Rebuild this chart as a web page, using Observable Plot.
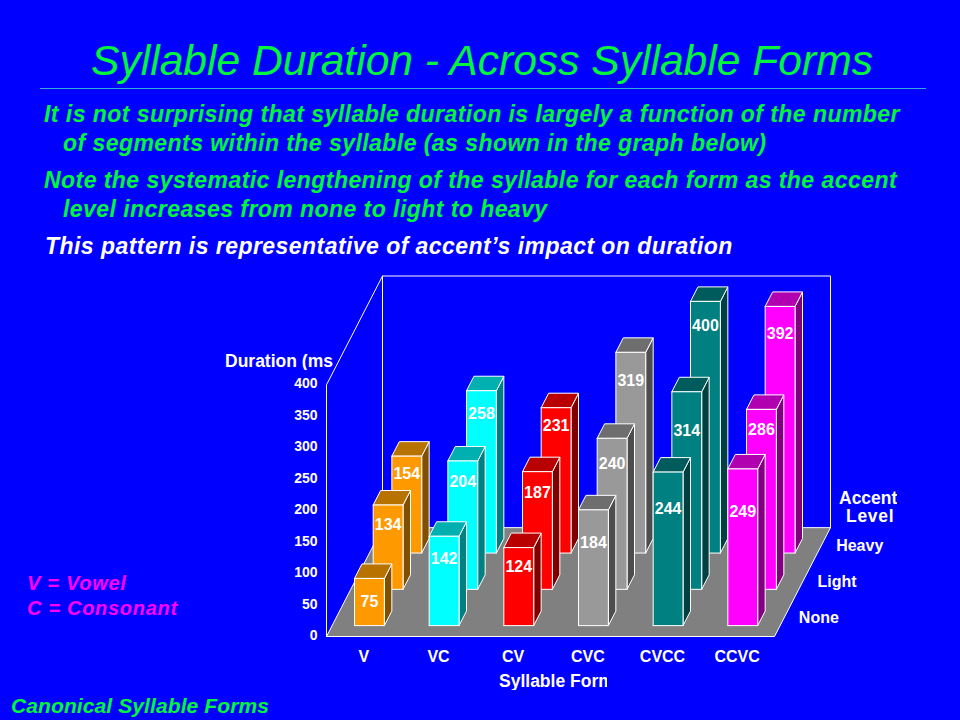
<!DOCTYPE html>
<html>
<head>
<meta charset="utf-8">
<script src="https://cdn.jsdelivr.net/npm/d3@7"></script>
<script src="https://cdn.jsdelivr.net/npm/@observablehq/plot@0.6"></script>
<style>
html,body{margin:0;padding:0;background:#0000FF;width:960px;height:720px;overflow:hidden;}
body{position:relative;font-family:"Liberation Sans",Arial,sans-serif;}
.t{position:absolute;white-space:nowrap;font-weight:bold;font-style:italic;line-height:1;}
.g{color:#00F73A;font-size:23px;letter-spacing:.45px;}
.w{color:#fff;font-size:23px;letter-spacing:.45px;}
.m{color:#FF00FF;font-size:20px;letter-spacing:.7px;}
.c{position:absolute;white-space:nowrap;overflow:hidden;font-weight:bold;color:#fff;font-size:17.5px;line-height:18px;height:18px;}
#chart{position:absolute;left:0;top:270px;}
#chart svg{display:block;}
</style>
</head>
<body>
<div class="t" id="title" style="left:0;width:964px;text-align:center;top:39px;font-size:42.6px;font-weight:normal;color:#00F73A;">Syllable Duration - Across Syllable Forms</div>
<div style="position:absolute;left:40px;top:88px;width:886px;height:1px;background:#33AADD;"></div>
<div class="t g" style="left:44px;top:103px;">It is not surprising that syllable duration is largely a function of the number</div>
<div class="t g" style="left:63px;top:132px;">of segments within the syllable (as shown in the graph below)</div>
<div class="t g" style="left:44px;top:169px;">Note the systematic lengthening of the syllable for each form as the accent</div>
<div class="t g" style="left:63px;top:198px;">level increases from none to light to heavy</div>
<div class="t w" style="left:45px;top:235px;">This pattern is representative of accent’s impact on duration</div>
<div class="t m" style="left:27px;top:573px;">V = Vowel</div>
<div class="t m" style="left:27px;top:598px;">C = Consonant</div>
<div class="t g" style="left:11px;top:695px;font-size:21px;letter-spacing:.1px;">Canonical Syllable Forms</div>
<div id="chart"></div>
<div class="c" style="left:225px;top:352px;width:108px;">Duration (ms)</div>
<div class="c" style="left:499px;top:672px;width:108px;">Syllable Form</div>
<div class="c" style="left:839px;top:489px;width:58px;">Accent</div>
<div class="c" style="left:846px;top:507px;width:50px;letter-spacing:.7px;">Level</div>
<script>
// Data
const forms = ["V", "VC", "CV", "CVC", "CVCC", "CCVC"];
const levels = ["None", "Light", "Heavy"];
const none = [75, 142, 124, 184, 244, 249];
const light = [134, 204, 187, 240, 314, 286];
const heavy = [154, 258, 231, 319, 400, 392];
const yTicks = [0, 50, 100, 150, 200, 250, 300, 350, 400];

// Face colours per form: front, top, side
const palette = {
  V: ["#FF9900", "#B87200", "#805000"],
  VC: ["#00FFFF", "#00B0B0", "#008080"],
  CV: ["#FF0000", "#B80000", "#800000"],
  CVC: ["#999999", "#6E6E6E", "#4D4D4D"],
  CVCC: ["#008080", "#005C5C", "#004040"],
  CCVC: ["#FF00FF", "#B000B0", "#800080"]
};
// How far (screen px) each value label sits below its bar's top edge, by level then form
const labelDrop = [
  [23, 23, 19, 33, 37, 43],
  [20, 21, 21, 26, 39, 20],
  [18, 23, 18, 29, 24, 27]
];

// Oblique projection: each depth row shifts right by a quarter category and up by a fixed amount of ms
const shearX = 0.25, shearY = 57.67, depthRows = levels.length;
const P = (x, d, v) => ({X: x + d * shearX, Y: v + d * shearY});
const series = [none, light, heavy];
const maxMs = yTicks[yTicks.length - 1];
const yMax = maxMs + depthRows * shearY;
const pxPerMs = 360.5 / yMax;

const faces = [];
function poly(id, fill, pts) {
  [...pts, pts[0]].forEach(p => faces.push({id, fill, ...P(...p)}));
}
const labels = [];
for (let d = depthRows - 1; d >= 0; d--) {
  forms.forEach((f, i) => {
    const v = series[d][i];
    const x0 = i + 0.3, x1 = i + 0.7, d0 = d + 0.3, d1 = d + 0.7;
    const [frontC, topC, sideC] = palette[f];
    poly(`${f}${d}side`, sideC, [[x1, d0, 0], [x1, d1, 0], [x1, d1, v], [x1, d0, v]]);
    poly(`${f}${d}top`, topC, [[x0, d0, v], [x1, d0, v], [x1, d1, v], [x0, d1, v]]);
    poly(`${f}${d}front`, frontC, [[x0, d0, 0], [x1, d0, 0], [x1, d0, v], [x0, d0, v]]);
    labels.push({drop: labelDrop[d][i], v, ...P(i + 0.5, d0, v)});
  });
}

const floor = [[0, 0, 0], [6, 0, 0], [6, depthRows, 0], [0, depthRows, 0], [0, 0, 0]].map(p => P(...p));
const wall = [[0, 0, 0], [0, 0, maxMs], [0, depthRows, maxMs], [6, depthRows, maxMs], [6, depthRows, 0]].map(p => P(...p));
const backEdge = [[0, depthRows, maxMs], [0, depthRows, 0]].map(p => P(...p));
const rowLabels = levels.map((l, d) => ({l, ...P(6, d + 0.5, 0)}));

const font = "Liberation Sans, Arial, sans-serif";
const chart = Plot.plot({
  width: 960,
  height: 450,
  marginLeft: 326,
  marginRight: 130,
  marginTop: 5.5,
  marginBottom: 84,
  style: {background: "transparent", color: "white", fontFamily: font},
  color: {type: "identity"},
  x: {domain: [0, 6 + depthRows * shearX], axis: null},
  y: {domain: [0, yMax], axis: null},
  marks: [
    Plot.line(backEdge, {x: "X", y: "Y", stroke: "white", strokeWidth: 1}),
    Plot.line(floor, {x: "X", y: "Y", fill: "#808080", stroke: "white", strokeWidth: 1}),
    Plot.line(wall, {x: "X", y: "Y", stroke: "white", strokeWidth: 1}),
    Plot.line(faces, {x: "X", y: "Y", z: "id", fill: "fill", stroke: "white", strokeWidth: 1, strokeLinejoin: "miter"}),
    Plot.text(labels, {x: "X", y: d => d.Y - d.drop / pxPerMs, text: d => String(d.v), fill: "white", fontSize: 16, fontWeight: "bold", fontFamily: font}),
    Plot.axisY({ticks: yTicks, anchor: "left", tickSize: 0, tickPadding: 9, label: null, fontSize: 14, fontWeight: "bold", fontFamily: font, dy: -1}),
    Plot.axisX({ticks: forms.map((_, i) => i + 0.5), tickFormat: t => forms[Math.floor(t)], anchor: "bottom", tickSize: 0, tickPadding: 14, label: null, fontSize: 16, fontWeight: "bold", fontFamily: font}),
    Plot.text(rowLabels, {x: "X", y: "Y", text: "l", dx: 15, textAnchor: "start", fill: "white", fontSize: 16, fontWeight: "bold", fontFamily: font})
  ]
});
document.getElementById("chart").appendChild(chart);
</script>
</body>
</html>
